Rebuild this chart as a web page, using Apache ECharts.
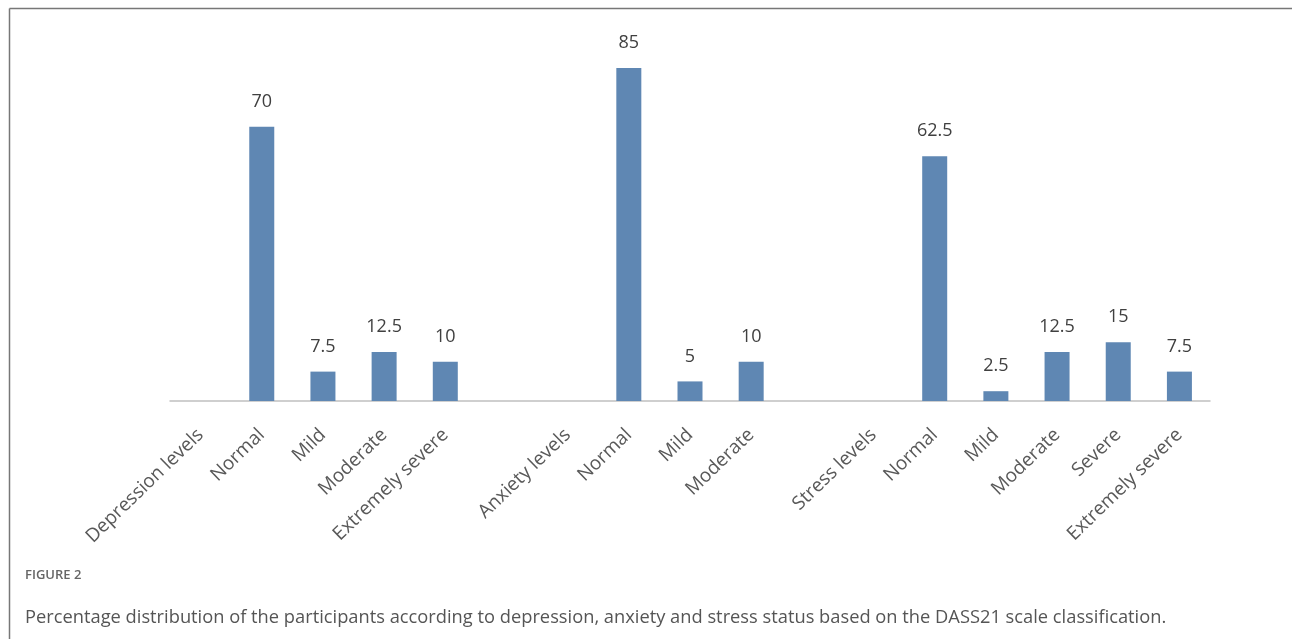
<!DOCTYPE html>
<html>
<head>
<meta charset="utf-8">
<script src="https://cdn.jsdelivr.net/npm/echarts@6/dist/echarts.min.js"></script>
<style>
html,body{margin:0;padding:0;background:#fff;}
#chart{width:1292px;height:639px;}
</style>
</head>
<body>
<div id="chart"></div>
<script>
const categories = ["Depression levels", "Normal", "Mild", "Moderate", "Extremely severe", "",
  "Anxiety levels", "Normal", "Mild", "Moderate", "",
  "Stress levels", "Normal", "Mild", "Moderate", "Severe", "Extremely severe"];
const values = [null, 70, 7.5, 12.5, 10, null,
  null, 85, 5, 10, null,
  null, 62.5, 2.5, 12.5, 15, 7.5];
const figureLabel = "FIGURE 2";
const captionText = "Percentage distribution of the participants according to depression, anxiety and stress status based on the DASS21 scale classification.";

const chart = echarts.init(document.getElementById('chart'));
chart.setOption({
  animation: false,
  grid: { left: 170, right: 82, top: 9.2, bottom: 238, containLabel: false },
  xAxis: {
    type: 'category',
    data: categories,
    axisLine: { show: true, lineStyle: { color: '#c0c0c0', width: 1.5 } },
    axisTick: { show: false },
    axisLabel: {
      interval: 0, rotate: 44, margin: 31,
      fontFamily: 'Open Sans', fontSize: 19, color: '#595959'
    },
    splitLine: { show: false }
  },
  yAxis: {
    type: 'value', min: 0, max: 100,
    show: false, splitLine: { show: false }
  },
  series: [{
    type: 'bar',
    data: values,
    barWidth: 25,
    itemStyle: { color: '#5f87b3' },
    label: {
      show: true, position: 'top', distance: 16,
      fontFamily: 'Open Sans', fontSize: 18, color: '#404040'
    }
  }],
  graphic: [
    { type: 'line', shape: { x1: 9.5, y1: 8.5, x2: 1292, y2: 8.5 }, style: { stroke: '#777', lineWidth: 1.5 } },
    { type: 'line', shape: { x1: 9.5, y1: 8.5, x2: 9.5, y2: 639 }, style: { stroke: '#777', lineWidth: 1.5 } },
    { type: 'text', left: 25, top: 569, style: { text: figureLabel, fontFamily: 'Open Sans', fontSize: 13, fontWeight: 600, fill: '#666' } },
    { type: 'text', left: 25, top: 609, style: { text: captionText, fontFamily: 'Open Sans', fontSize: 18.3, fill: '#555' } }
  ]
});
</script>
</body>
</html>
